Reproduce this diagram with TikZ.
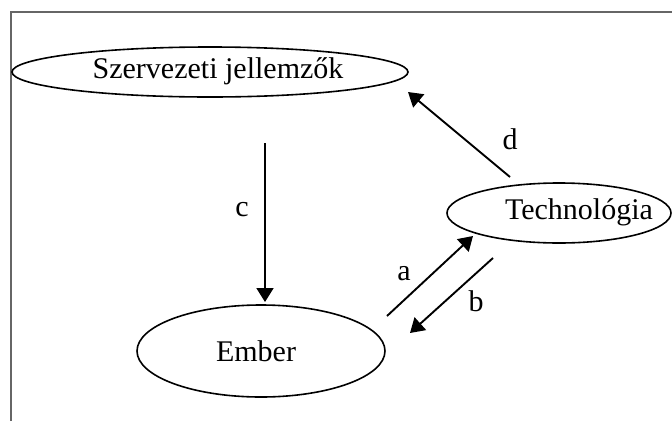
\documentclass[tikz,border=0pt]{standalone}
\usepackage{fontspec}
\setmainfont{Liberation Serif}
\usetikzlibrary{shapes.geometric,arrows.meta}
\begin{document}
\begin{tikzpicture}[x=1pt,y=-1pt,
  oval/.style={ellipse,draw,line width=1.6pt,inner sep=0pt},
  link/.style={line width=1.9pt,-{Triangle[length=14pt,width=17pt]}},
  tag/.style={font=\fontsize{30}{32}\selectfont}]
\useasboundingbox (0,0) rectangle (672,421);
% frame: left and top edges only
\draw[gray!80!black,line width=1.5pt] (11,421) -- (11,12) -- (672,12);
% the three entities
\node[oval,minimum width=396pt,minimum height=50pt] (org) at (210,72) {};
\node[tag] (orgtext) at (218,71) {Szervezeti jellemzők};
\node[oval,minimum width=248pt,minimum height=92pt] (emb) at (261,351) {};
\node[tag] (embtext) at (256,351) {Ember};
\node[oval,minimum width=224pt,minimum height=60pt] (tech) at (559,213) {};
\node[tag] (techtext) at (579,212) {Technológia};
% arrow end points
\coordinate (c1) at (265,143);
\coordinate (c2) at (265,302);
\coordinate (d1) at (510,177);
\coordinate (d2) at (408,92);
\coordinate (a1) at (387,316);
\coordinate (a2) at (473,236);
\coordinate (b1) at (493,258);
\coordinate (b2) at (410,333);
\draw[link] (c1) -- (c2);
\draw[link] (d1) -- (d2);
\draw[link] (a1) -- (a2);
\draw[link] (b1) -- (b2);
% labels
\node[tag] (lc) at (242,210) {c};
\node[tag] (ld) at (510,139) {d};
\node[tag] (la) at (404,274) {a};
\node[tag] (lb) at (476,301) {b};
\end{tikzpicture}
\end{document}
